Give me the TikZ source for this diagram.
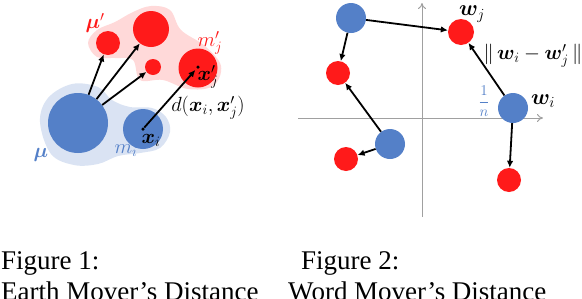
\RequirePackage{fix-cm}
\documentclass[tikz,border=0pt]{standalone}
\usepackage{amsmath}
\usepackage{bm}
\usepackage{fontspec}
\setmainfont{Liberation Serif}
\usetikzlibrary{arrows.meta}
\definecolor{bluec}{RGB}{84,128,200}
\definecolor{redc}{RGB}{255,26,26}
\definecolor{lblue}{RGB}{218,227,243}
\definecolor{lred}{RGB}{255,217,217}
\definecolor{axgray}{RGB}{160,160,160}
\tikzset{
  bdisk/.style={circle, fill=bluec, inner sep=0pt, minimum size=#1},
  rdisk/.style={circle, fill=redc, inner sep=0pt, minimum size=#1},
  dotp/.style={circle, fill=black, inner sep=0pt, minimum size=3.5pt},
  arr/.style={-{Latex[length=7pt,width=6.5pt]}, line width=1.8pt, black},
  axisline/.style={-{To[length=6pt,width=8pt]}, line width=1pt, axgray},
  lab/.style={font=\fontsize{20.5}{24}\selectfont, inner sep=0pt},
  wlab/.style={font=\fontsize{22}{25}\selectfont, inner sep=0pt},
  fraclab/.style={font=\fontsize{15}{18}\selectfont, inner sep=0pt},
  captext/.style={font=\fontsize{27}{31}\selectfont, inner sep=0pt, anchor=base west},
}
\begin{document}
\begin{tikzpicture}[x=1pt,y=-1pt]
\useasboundingbox (0,0) rectangle (582,298);
% ---------- Figure 1 ----------
\fill[lblue] plot[smooth cycle, tension=0.6] coordinates {
  (40,122) (48,98) (72,84) (98,87) (112,100) (130,107) (152,108)
  (166,117) (170,132) (160,148) (140,153) (118,156) (98,164) (74,165) (51,154)};
\fill[lred] plot[smooth cycle, tension=0.6] coordinates {
  (88,43) (97,30) (115,22) (133,12) (151,6) (170,10) (181,30)
  (205,46) (221,66) (213,86) (188,89) (163,80) (140,80) (133,60)
  (116,58) (97,57)};
\node[bdisk=60pt] (B1) at (78,123) {};
\node[bdisk=40pt] (B2) at (143,129) {};
\node[rdisk=24pt] (R1) at (108,43) {};
\node[rdisk=36pt] (R2) at (151,29) {};
\node[rdisk=16pt] (R3) at (153,67) {};
\node[rdisk=39pt] (R4) at (198,68) {};
\node[dotp] (xi) at (143,129) {};
\node[dotp] (xj) at (198,67) {};
\draw[arr] (B1) -- (R1);
\draw[arr] (B1) -- (R2);
\draw[arr] (B1) -- (R3);
\draw[arr, shorten >=2pt] (xi) -- (xj);
\node[lab, text=redc] (mup) at (95,23) {$\bm{\mu}'$};
\node[lab, text=redc] (mj) at (210,43) {$m'_j$};
\node[lab] (xjl) at (208,77) {$\bm{x}'_j$};
\node[lab] (dl) at (208,108) {$d(\bm{x}_i,\bm{x}'_j)$};
\node[lab] (xil) at (151,140) {$\bm{x}_i$};
\node[lab, text=bluec] (mil) at (126,151) {$m_i$};
\node[lab, text=bluec] (mul) at (41,155) {$\bm{\mu}$};
% ---------- Figure 2 ----------
\coordinate (vb) at (422,217);
\coordinate (vt) at (422,3);
\coordinate (hl) at (298,118);
\coordinate (hr) at (543,118);
\draw[axisline] (vb) -- (vt);
\draw[axisline] (hl) -- (hr);
\node[bdisk=30pt] (W1) at (351,18) {};
\node[bdisk=30pt] (W2) at (513,108) {};
\node[bdisk=30pt] (W3) at (390,144) {};
\node[rdisk=26pt] (V1) at (461,32) {};
\node[rdisk=24pt] (V2) at (338,73) {};
\node[rdisk=24pt] (V3) at (346,159) {};
\node[rdisk=24pt] (V4) at (509,180) {};
\draw[arr] (W1) -- (V1);
\draw[arr] (W1) -- (V2);
\draw[arr] (W2) -- (V1);
\draw[arr] (W2) -- (V4);
\draw[arr] (W3) -- (V2);
\draw[arr] (W3) -- (V3);
\node[wlab] (wjl) at (472,14) {$\bm{w}_j$};
\node[wlab] (wil) at (543,101) {$\bm{w}_i$};
\node[lab] (norm) at (533,56) {$\|\,\bm{w}_i - \bm{w}'_j\,\|$};
\node[fraclab, text=bluec] (frac) at (484,101) {$\dfrac{1}{n}$};
% ---------- Captions ----------
\node[captext] (c1a) at (1,269) {Figure 1:};
\node[captext] (c1b) at (1,300) {Earth Mover’s Distance};
\node[captext] (c2a) at (301,269) {Figure 2:};
\node[captext] (c2b) at (288,300) {Word Mover’s Distance};
\end{tikzpicture}
\end{document}
